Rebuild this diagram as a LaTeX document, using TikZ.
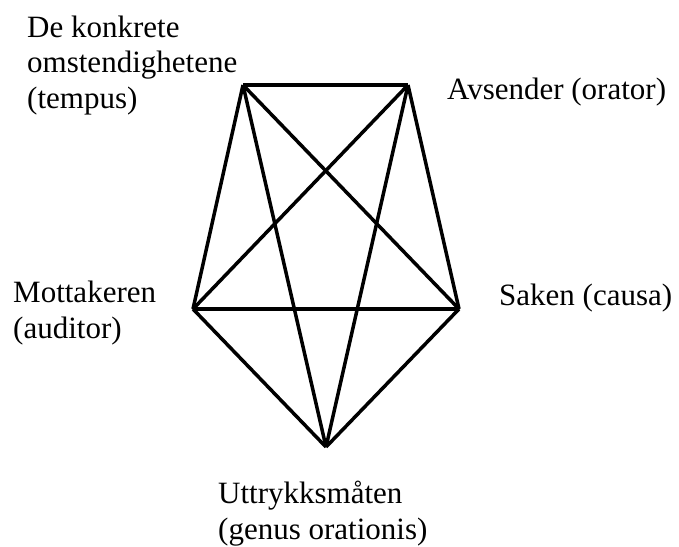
\documentclass[tikz,border=0pt]{standalone}
\usepackage{fontspec}
\setmainfont{Liberation Serif}
\usepackage{tikz}

\begin{document}
\begin{tikzpicture}[x=1pt,y=-1pt,
    edge/.style={black,line width=3.5pt},
    lbl/.style={font=\fontsize{31}{35.5}\selectfont,inner sep=0pt,anchor=base west,align=left}]
    \useasboundingbox (0,0) rectangle (679,546);
    \coordinate (tempus)  at (243,85);
    \coordinate (orator)  at (408,85);
    \coordinate (auditor) at (193,309);
    \coordinate (causa)   at (459,309);
    \coordinate (genus)   at (326,447);
    \foreach \a/\b in {tempus/orator,tempus/auditor,tempus/causa,tempus/genus,
                       orator/auditor,orator/causa,orator/genus,
                       auditor/causa,auditor/genus,causa/genus}
      \draw[edge] (\a) -- (\b);
    \node[lbl] (lbltempus)  at (27,108) {De konkrete\\omstendighetene\\(tempus)};
    \node[lbl] (lblorator)  at (447,99) {Avsender (orator)};
    \node[lbl] (lblauditor) at (13,338) {Mottakeren\\(auditor)};
    \node[lbl] (lblcausa)   at (499,305) {Saken (causa)};
    \node[lbl] (lblgenus)   at (218,539) {Uttrykksmåten\\(genus orationis)};
  \end{tikzpicture}
\end{document}
